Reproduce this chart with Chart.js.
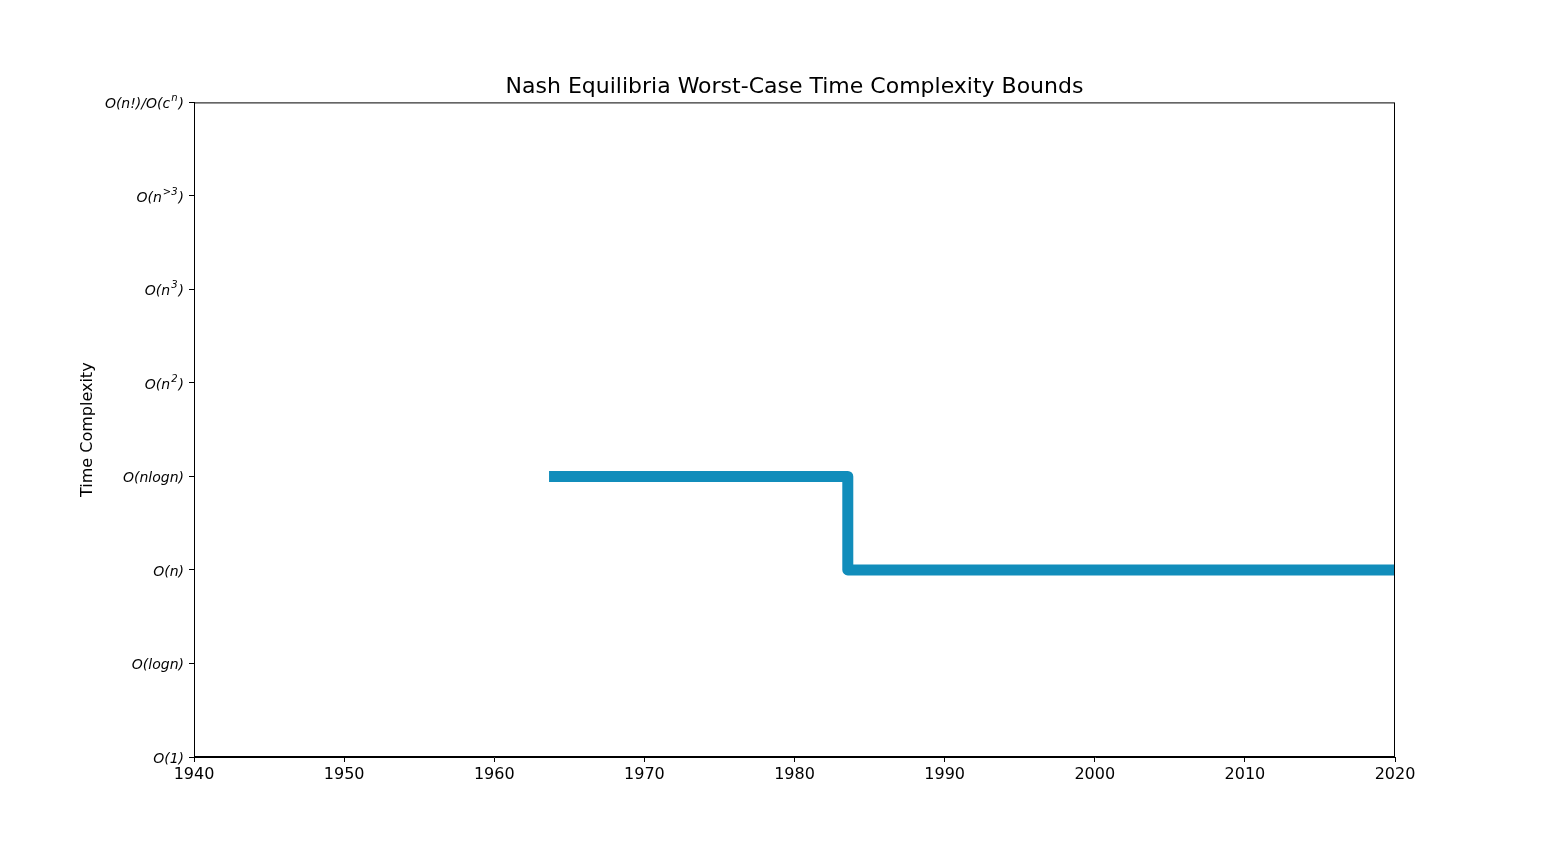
<!DOCTYPE html>
<html>
<head>
<meta charset="utf-8">
<script src="https://cdn.jsdelivr.net/npm/chart.js@4"></script>
<style>
  body { margin: 0; background: #fff; }
  #wrap { width: 1550px; height: 850px; }
</style>
</head>
<body>
<div id="wrap"><canvas id="chart" width="1550" height="850"></canvas></div>
<script>
'use strict';

// data
var years  = [1963.65, 1983.55, 2020];
var levels = [3, 2, 2];
// y tick labels, ^{..} marks a superscript
var levelLabels = ['O(1)', 'O(logn)', 'O(n)', 'O(nlogn)', 'O(n^{2})', 'O(n^{3})', 'O(n^{>3})', 'O(n!)/O(c^{n})'];
var xMin = 1940, xMax = 2020;

var points = years.map(function (y, i) { return { x: y, y: levels[i] }; });

// split "O(n^{2})" into [text, isSup] parts
function parseLabel(s) {
  var parts = [], re = /\^\{([^}]*)\}/g, last = 0, m;
  while ((m = re.exec(s))) {
    if (m.index > last) parts.push([s.slice(last, m.index), false]);
    parts.push([m[1], true]);
    last = re.lastIndex;
  }
  if (last < s.length) parts.push([s.slice(last), false]);
  return parts;
}

var boxAndLabels = {
  id: 'boxAndLabels',
  afterDraw: function (chart) {
    var ctx = chart.ctx, a = chart.chartArea;
    ctx.save();
    ctx.strokeStyle = '#000';
    ctx.lineWidth = 1;
    ctx.strokeRect(a.left + 0.5, a.top + 0.5, a.right - a.left - 1, a.bottom - a.top - 1);

    // y tick labels with superscripts
    var yScale = chart.scales.y;
    var base = 14, sup = 10;
    ctx.fillStyle = '#000';
    ctx.textBaseline = 'middle';
    ctx.textAlign = 'left';
    levelLabels.forEach(function (lab, i) {
      var parts = parseLabel(lab);
      var w = 0;
      parts.forEach(function (p) {
        ctx.font = 'italic ' + (p[1] ? sup : base) + 'px "DejaVu Sans"';
        w += ctx.measureText(p[0]).width + (p[1] ? 2 : 0);
      });
      var x = a.left - 10 - w;
      var y = yScale.getPixelForValue(i) + 2;
      parts.forEach(function (p) {
        ctx.font = 'italic ' + (p[1] ? sup : base) + 'px "DejaVu Sans"';
        if (p[1]) x += 1;
        ctx.fillText(p[0], x, p[1] ? y - 6 : y);
        x += ctx.measureText(p[0]).width + (p[1] ? 1 : 0);
      });
    });
    ctx.restore();
  }
};

var chart = new Chart(document.getElementById('chart').getContext('2d'), {
  type: 'line',
  data: {
    datasets: [{
      data: points,
      stepped: 'before',
      borderColor: '#118dbb',
      borderWidth: 11,
      borderCapStyle: 'butt',
      borderJoinStyle: 'round',
      pointRadius: 0,
      fill: false
    }]
  },
  options: {
    responsive: false,
    animation: false,
    layout: { padding: { top: 0, left: 0, right: 155, bottom: 0 } },
    plugins: {
      legend: { display: false },
      tooltip: { enabled: false },
      title: {
        display: true,
        fullSize: false,
        text: 'Nash Equilibria Worst-Case Time Complexity Bounds',
        color: '#000',
        font: { family: 'DejaVu Sans', size: 22, weight: 'normal' },
        padding: { top: 74, bottom: 2 }
      }
    },
    scales: {
      x: {
        type: 'linear',
        min: xMin,
        max: xMax,
        afterFit: function (s) { s.height = 93; },
        grid: { display: true, drawOnChartArea: false, tickLength: 5, color: '#000' },
        border: { color: '#000' },
        ticks: {
          stepSize: 10,
          color: '#000',
          padding: 3,
          maxRotation: 0,
          font: { family: 'DejaVu Sans', size: 16 },
          callback: function (v) { return String(v); }
        }
      },
      y: {
        type: 'linear',
        min: 0,
        max: levelLabels.length - 1,
        afterFit: function (s) { s.width = 194; },
        grid: { display: true, drawOnChartArea: false, tickLength: 5, color: '#000' },
        border: { color: '#000' },
        ticks: {
          stepSize: 1,
          color: '#000',
          callback: function () { return ''; }
        },
        title: {
          display: true,
          text: 'Time Complexity',
          color: '#000',
          font: { family: 'DejaVu Sans', size: 16 },
          padding: { top: 78, bottom: 0 }
        }
      }
    }
  },
  plugins: [boxAndLabels]
});
</script>
</body>
</html>
